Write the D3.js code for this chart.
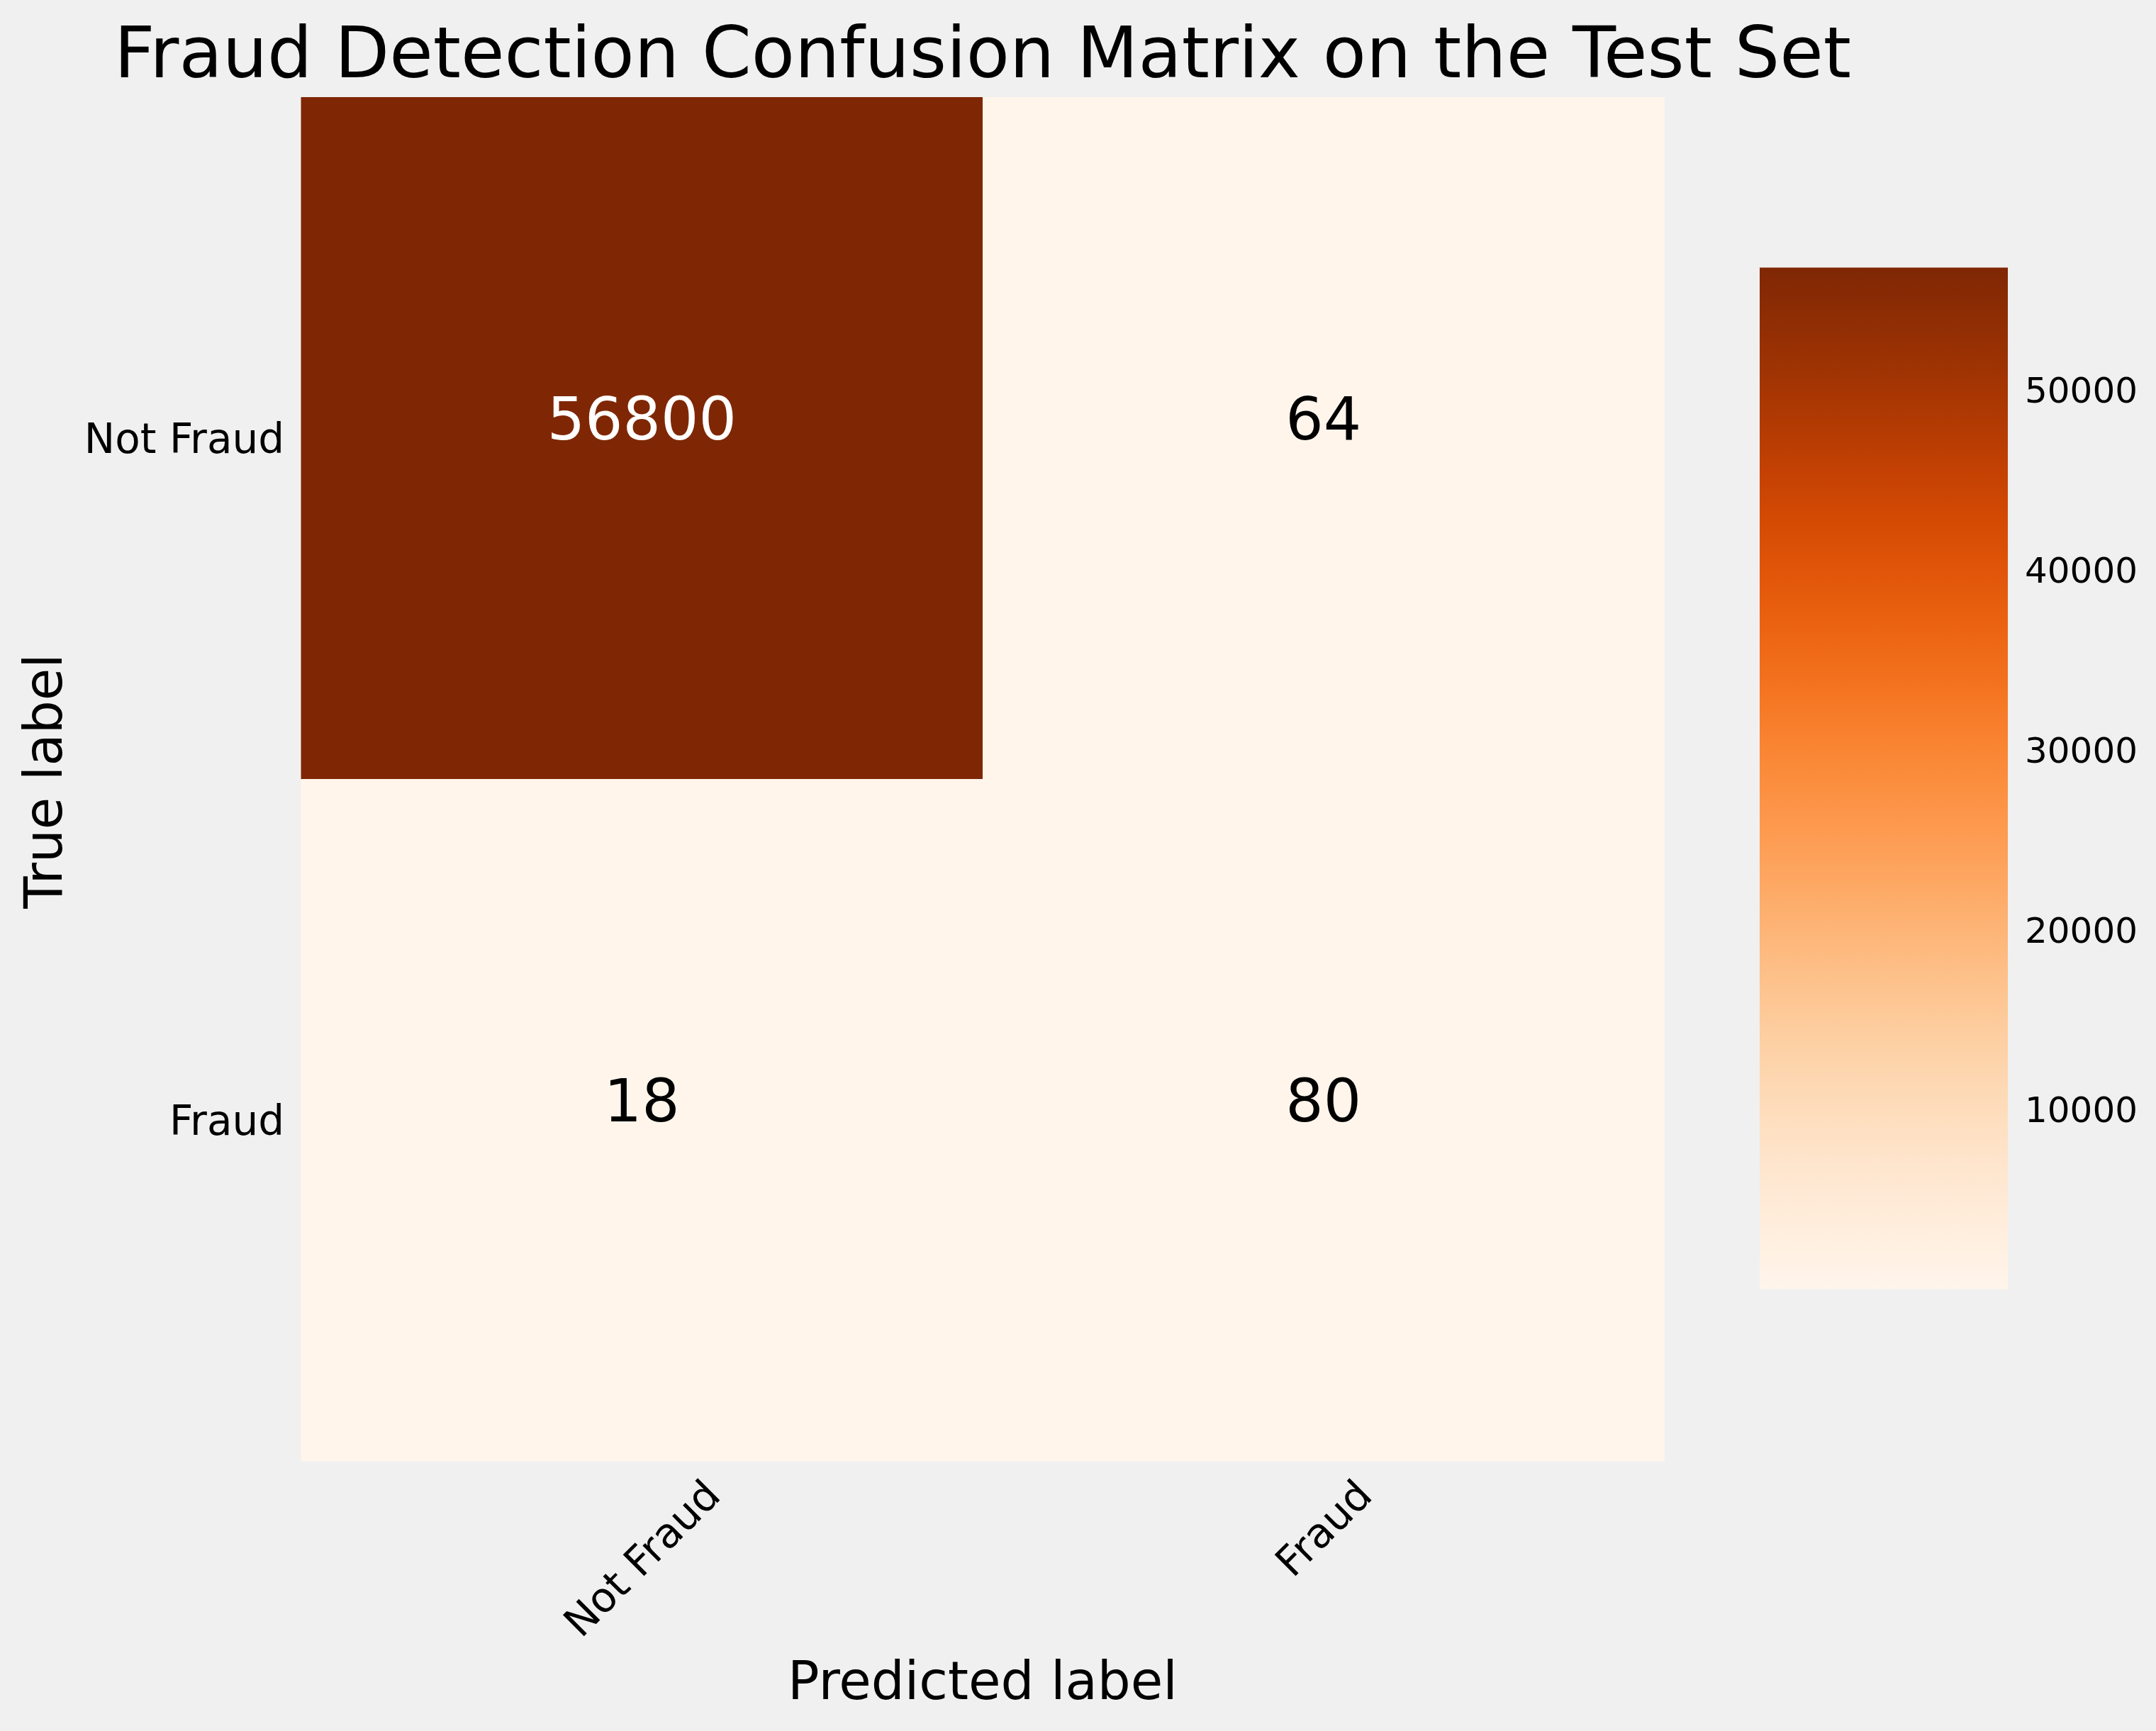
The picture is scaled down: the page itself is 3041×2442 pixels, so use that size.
<!DOCTYPE html>
<html>
<head>
<meta charset="utf-8">
<script src="https://cdn.jsdelivr.net/npm/d3@7"></script>
<style>
  html, body { margin: 0; padding: 0; background: #f0f0f0; }
  svg { display: block; font-family: "DejaVu Sans", sans-serif; }
</style>
</head>
<body>
<div id="chart"></div>
<script>
// confusion matrix: rows = true label, columns = predicted label
const predictedLabels = ['Not Fraud', 'Fraud'];
const trueLabels = ['Not Fraud', 'Fraud'];
const rowNotFraud = [56800, 64];
const rowFraud = [18, 80];
const cbTickValues = [10000, 20000, 30000, 40000, 50000];

const W = 3041, H = 2442;
const plot = { left: 424.5, right: 2347.5, top: 137, bottom: 2061 };
const cbar = { left: 2482, right: 2832, top: 377.5, bottom: 1818.5 };

const rows = [rowNotFraud, rowFraud];
const cells = [];
trueLabels.forEach((t, i) => {
  predictedLabels.forEach((p, j) => cells.push({ t, p, v: rows[i][j] }));
});

const svg = d3.select('#chart').append('svg')
  .attr('width', W).attr('height', H);
svg.append('rect').attr('width', W).attr('height', H).attr('fill', '#f0f0f0');

const x = d3.scaleBand().domain(predictedLabels).range([plot.left, plot.right]);
const y = d3.scaleBand().domain(trueLabels).range([plot.top, plot.bottom]);
const [vmin, vmax] = d3.extent(cells, d => d.v);
const color = d3.scaleSequential(d3.interpolateOranges).domain([vmin, vmax]);

// cells
svg.append('g').selectAll('rect').data(cells).join('rect')
  .attr('x', d => x(d.p)).attr('y', d => y(d.t))
  .attr('width', x.bandwidth() + 0.5).attr('height', y.bandwidth() + 0.5)
  .attr('fill', d => color(d.v));

// cell annotations
svg.append('g').selectAll('text').data(cells).join('text')
  .attr('x', d => x(d.p) + x.bandwidth() / 2)
  .attr('y', d => y(d.t) + y.bandwidth() / 2 + 2)
  .attr('text-anchor', 'middle')
  .style('font-size', '84px')
  .attr('fill', d => d.v > (vmin + vmax) / 2 ? '#ffffff' : '#000000')
  .text(d => d.v);

// y tick labels
svg.append('g').selectAll('text').data(trueLabels).join('text')
  .attr('x', plot.left - 23.5)
  .attr('y', d => y(d) + y.bandwidth() / 2 + 0.3645 * 58)
  .attr('text-anchor', 'end')
  .style('font-size', '58px')
  .text(d => d);

// x tick labels, rotated 45deg, centred under the tick
const xt = svg.append('g').selectAll('text').data(predictedLabels).join('text')
  .attr('text-anchor', 'middle')
  .attr('dominant-baseline', 'central')
  .style('font-size', '58px')
  .text(d => d);
xt.each(function (d) {
  const w = this.getComputedTextLength();
  const side = (w + 58) * Math.SQRT1_2;
  const cx = x(d) + x.bandwidth() / 2;
  const cy = plot.bottom + 17 + side / 2;
  d3.select(this).attr('x', cx).attr('y', cy)
    .attr('transform', `rotate(-45,${cx},${cy})`);
});

// axis labels
svg.append('text')
  .attr('x', (plot.left + plot.right) / 2).attr('y', 2397)
  .attr('text-anchor', 'middle').style('font-size', '74px')
  .text('Predicted label');
svg.append('text')
  .attr('transform', `translate(87,${(plot.top + plot.bottom) / 2 + 3}) rotate(-90)`)
  .attr('text-anchor', 'middle').style('font-size', '74px')
  .text('True label');

// title
svg.append('text')
  .attr('x', (plot.left + plot.right) / 2).attr('y', 108.5)
  .attr('text-anchor', 'middle').style('font-size', '100px')
  .text('Fraud Detection Confusion Matrix on the Test Set');

// colorbar
const cb = d3.scaleLinear().domain([vmin, vmax]).range([cbar.bottom, cbar.top]);
const grad = svg.append('defs').append('linearGradient')
  .attr('id', 'cbgrad').attr('x1', 0).attr('y1', 1).attr('x2', 0).attr('y2', 0);
d3.range(0, 1.0001, 0.05).forEach(t => {
  grad.append('stop').attr('offset', t).attr('stop-color', d3.interpolateOranges(t));
});
svg.append('rect')
  .attr('x', cbar.left).attr('y', cbar.top)
  .attr('width', cbar.right - cbar.left).attr('height', cbar.bottom - cbar.top)
  .attr('fill', 'url(#cbgrad)');
svg.append('g').selectAll('text').data(cbTickValues).join('text')
  .attr('x', cbar.right + 24)
  .attr('y', d => cb(d) + 0.3645 * 50)
  .style('font-size', '50px')
  .text(d => d3.format('d')(d));
</script>
</body>
</html>
